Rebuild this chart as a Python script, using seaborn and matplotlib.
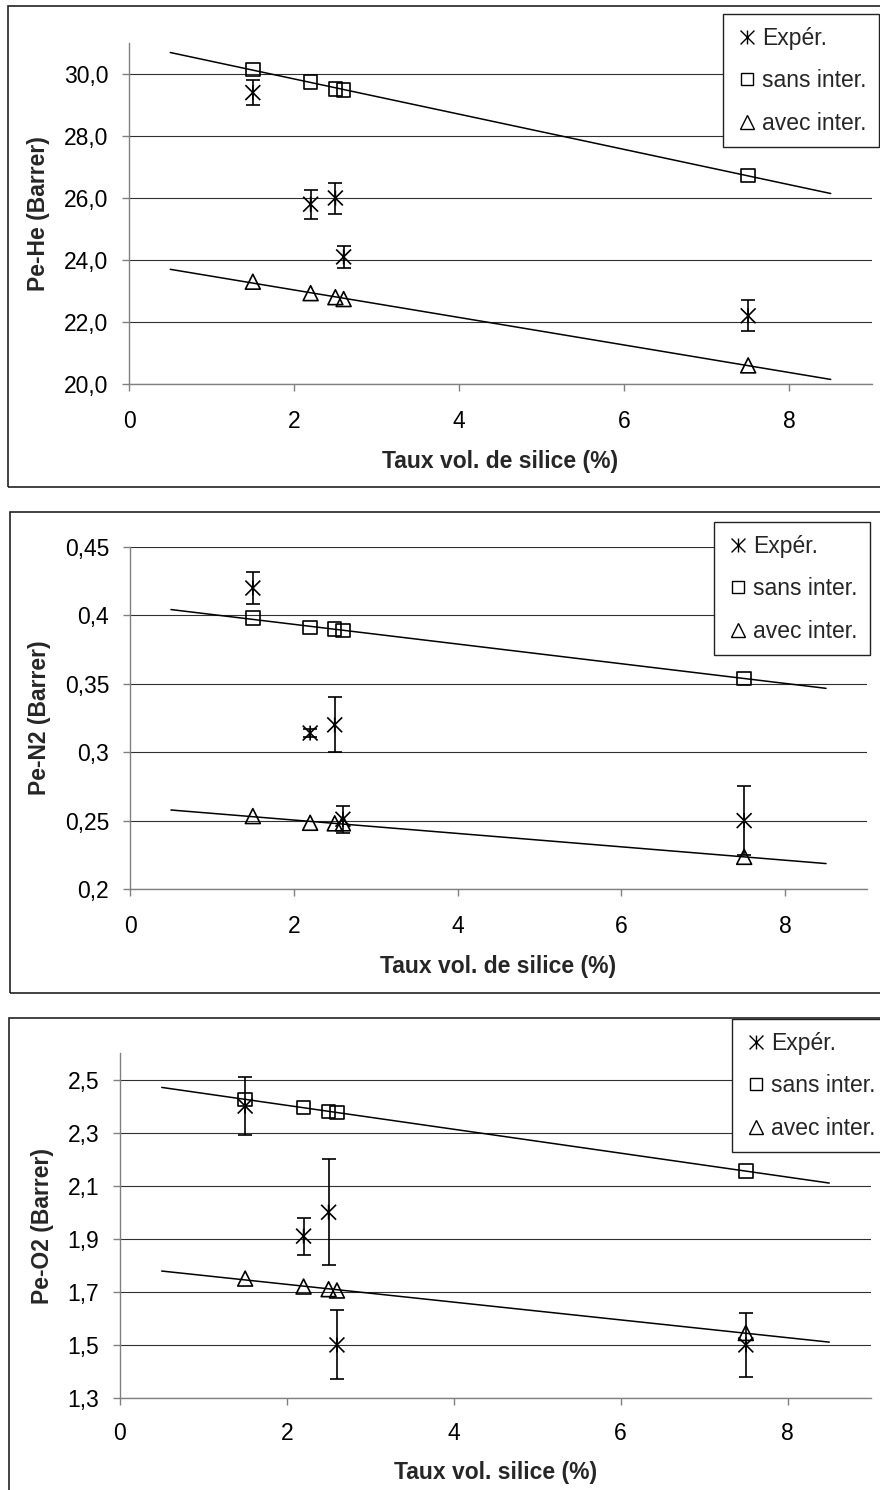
import matplotlib
matplotlib.use('Agg')
import numpy as np
import matplotlib.pyplot as plt
import seaborn as sns
from matplotlib.path import Path
from matplotlib.lines import Line2D
from matplotlib.patches import Rectangle
from matplotlib.ticker import FuncFormatter

# ---- data ----
taux = [1.5, 2.2, 2.5, 2.6, 7.5]

he_exp = [29.4, 25.8, 26.0, 24.1, 22.2]
he_exp_err = [0.4, 0.47, 0.5, 0.35, 0.5]
he_sans = [30.15, 29.75, 29.52, 29.48, 26.72]
he_avec = [23.3, 22.93, 22.8, 22.74, 20.6]

n2_exp = [0.42, 0.314, 0.32, 0.251, 0.25]
n2_exp_err = [0.012, 0.003, 0.02, 0.01, 0.025]
n2_sans = [0.398, 0.391, 0.390, 0.389, 0.354]
n2_avec = [0.2533, 0.2484, 0.248, 0.248, 0.2235]

o2_exp = [2.40, 1.91, 2.0, 1.5, 1.5]
o2_exp_err = [0.11, 0.07, 0.2, 0.13, 0.12]
o2_sans = [2.425, 2.395, 2.38, 2.375, 2.155]
o2_avec = [1.75, 1.72, 1.71, 1.705, 1.545]

trend_range = [0.5, 8.5]
legend_labels = ['Expér.', 'sans inter.', 'avec inter.']

# ---- style ----
sns.set_style('white')
plt.rcParams['font.family'] = ['Liberation Sans', 'DejaVu Sans']

W, H = 880, 1490
fig = plt.figure(figsize=(W / 100, H / 100), dpi=100)

# Excel style star: X plus vertical bar
star = Path([(0, -1), (0, 1), (-1, -1), (1, 1), (-1, 1), (1, -1)],
            [Path.MOVETO, Path.LINETO] * 3)


def fx(px):
    return px / W


def fy(py):
    return 1 - py / H


def panel(rect_px, frame_px, legend_anchor, exp, err, sans, avec,
          ylim, yticks, yfmt, ylabel, xlabel, xpad=14):
    l, t, r, b = rect_px
    ax = fig.add_axes([fx(l), fy(b), fx(r) - fx(l), fy(t) - fy(b)])

    # panel frame
    fl, ft, fr, fb = frame_px
    fig.patches.append(Rectangle((fx(fl), fy(fb)), fx(fr) - fx(fl), fy(ft) - fy(fb),
                                 transform=fig.transFigure, fill=False,
                                 edgecolor='#222222', linewidth=1.2, zorder=0))

    # trend lines through model points
    for series in (sans, avec):
        k, c = np.polyfit(taux, series, 1)
        xs = np.array(trend_range)
        sns.lineplot(x=xs, y=k * xs + c, ax=ax, color='black', linewidth=1.1)

    ax.errorbar(taux, exp, yerr=err, fmt='none', ecolor='black',
                elinewidth=1.2, capsize=5, capthick=1.2, zorder=3)
    sns.scatterplot(x=taux, y=exp, ax=ax, marker=star, s=115,
                    facecolor='none', edgecolor='black', linewidth=1.2, zorder=4)
    sns.scatterplot(x=taux, y=sans, ax=ax, marker='s', s=95,
                    facecolor='none', edgecolor='black', linewidth=1.2, zorder=4)
    sns.scatterplot(x=taux, y=avec, ax=ax, marker='^', s=115,
                    facecolor='none', edgecolor='black', linewidth=1.2, zorder=4)

    ax.set_xlim(0, 9)
    ax.set_xticks([0, 2, 4, 6, 8])
    ax.set_ylim(*ylim)
    ax.set_yticks(yticks)
    ax.yaxis.set_major_formatter(FuncFormatter(lambda v, p: yfmt(v).replace('.', ',')))
    ax.yaxis.grid(True, color='#303030', linewidth=0.8)
    ax.xaxis.grid(False)
    ax.set_axisbelow(True)
    for s in ('top', 'right'):
        ax.spines[s].set_visible(False)
    for s in ('left', 'bottom'):
        ax.spines[s].set_color('#808080')
        ax.spines[s].set_linewidth(1.0)
    ax.tick_params(axis='both', direction='out', length=5, width=1,
                   color='#808080', labelsize=16.5, labelcolor='black')
    ax.tick_params(axis='y', pad=10, left=True)
    ax.tick_params(axis='x', pad=xpad, bottom=True)
    ax.set_ylabel(ylabel, fontsize=16.5, fontweight='bold', labelpad=10)
    ax.set_xlabel(xlabel, fontsize=16.5, fontweight='bold', labelpad=12)

    handles = [Line2D([], [], ls='none', marker=star, ms=10, mfc='none', mec='black', mew=1.0),
               Line2D([], [], ls='none', marker='s', ms=9, mfc='none', mec='black', mew=1.0),
               Line2D([], [], ls='none', marker='^', ms=10, mfc='none', mec='black', mew=1.0)]
    leg = ax.legend(handles, legend_labels, loc='upper right',
                    bbox_to_anchor=(fx(legend_anchor[0]), fy(legend_anchor[1])),
                    bbox_transform=fig.transFigure, frameon=True, fancybox=False,
                    edgecolor='#222222', framealpha=1, fontsize=16.5,
                    handlelength=1.0, handletextpad=0.15, labelspacing=0.85,
                    borderpad=0.55, borderaxespad=0)
    leg.get_frame().set_linewidth(1.0)
    leg.set_zorder(10)
    return ax


panel((129, 43, 872, 384), (8, 6, 890, 487), (879, 14),
      he_exp, he_exp_err, he_sans, he_avec,
      (20, 31), [20, 22, 24, 26, 28, 30], lambda v: f'{v:.1f}',
      'Pe-He (Barrer)', 'Taux vol. de silice (%)')

panel((130, 547, 867, 889), (10, 512, 890, 993), (870, 522),
      n2_exp, n2_exp_err, n2_sans, n2_avec,
      (0.2, 0.45), [0.2, 0.25, 0.3, 0.35, 0.4, 0.45], lambda v: f'{v:g}',
      'Pe-N2 (Barrer)', 'Taux vol. de silice (%)')

panel((120, 1053, 871, 1398), (9, 1018, 890, 1500), (888, 1019),
      o2_exp, o2_exp_err, o2_sans, o2_avec,
      (1.3, 2.6), [1.3, 1.5, 1.7, 1.9, 2.1, 2.3, 2.5], lambda v: f'{v:.1f}',
      'Pe-O2 (Barrer)', 'Taux vol. silice (%)', xpad=12)

fig.savefig('out.png', dpi=100, facecolor='white')
